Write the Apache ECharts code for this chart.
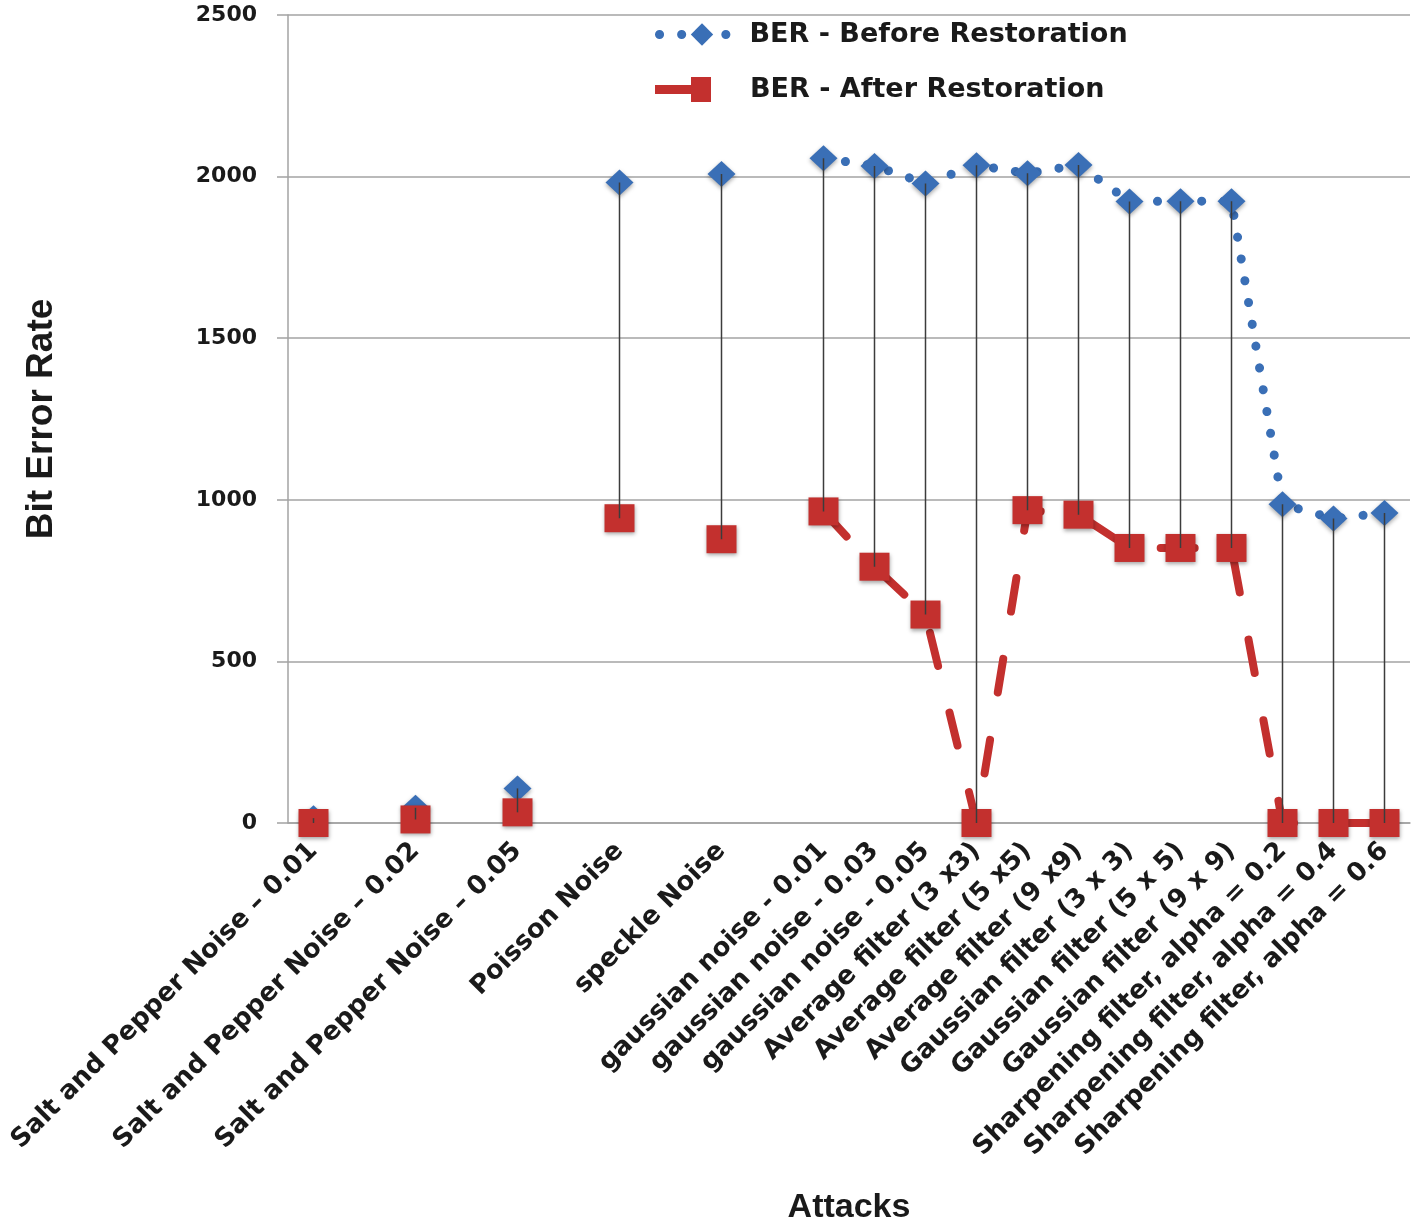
<!DOCTYPE html>
<html>
<head>
<meta charset="utf-8">
<script src="https://cdn.jsdelivr.net/npm/echarts@6/dist/echarts.min.js"></script>
<style>
html,body{margin:0;padding:0;background:#fff;}
#chart{width:1416px;height:1230px;}
</style>
</head>
<body>
<div id="chart"></div>
<script>
// Categories (empty strings are spacer slots that keep the original uneven spacing)
var categories = [
  'Salt and Pepper Noise \u2013 0.01', '',
  'Salt and Pepper Noise \u2013 0.02', '',
  'Salt and Pepper Noise \u2013 0.05', '',
  'Poisson Noise', '',
  'speckle Noise', '',
  'gaussian noise - 0.01',
  'gaussian noise - 0.03',
  'gaussian noise - 0.05',
  'Average filter (3 x3)',
  'Average filter (5 x5)',
  'Average filter (9 x9)',
  'Gaussian filter (3 x 3)',
  'Gaussian filter (5 x 5)',
  'Gaussian filter (9 x 9)',
  'Sharpening filter, alpha = 0.2',
  'Sharpening filter, alpha = 0.4',
  'Sharpening filter, alpha = 0.6'
];
var berBefore = [15, null, 47, null, 107, null, 1982, null, 2008, null, 2057, 2033, 1979, 2035, 2010, 2036, 1923, 1924, 1924, 986, 942, 959];
var berAfter  = [0, null, 11, null, 33, null, 943, null, 878, null, 964, 793, 645, 0, 968, 954, 851, 851, 851, 0, 0, 0];
var yTicks = [0, 500, 1000, 1500, 2000, 2500];

var seriesNames = ['BER - Before Restoration', 'BER - After Restoration'];

// high-low connector data built from the two series
var hiLo = [];
for (var i = 0; i < categories.length; i++) {
  if (berBefore[i] != null && berAfter[i] != null) hiLo.push([i, berAfter[i], berBefore[i]]);
}

var gridColor = '#a3a3a3';
var textColor = '#1a1a1a';
var blue = '#3a6fb6';
var red = '#c3302e';

// legend icon for the "after" series: thick line ending in a square (56 x 25)
var redLegendIcon = 'path://M0,8 L38,8 L38,17 L0,17 Z M36,0 L56,0 L56,25 L36,25 Z';
var legendText = { fontFamily: 'DejaVu Sans', fontWeight: 'bold', fontSize: 27, color: textColor };

var chart = echarts.init(document.getElementById('chart'));
chart.setOption({
  animation: false,
  backgroundColor: '#ffffff',
  legend: [
    {
      orient: 'vertical',
      left: 650,
      top: 16,
      itemWidth: 85,
      itemHeight: 28,
      lineStyle: { width: 'inherit' },
      data: [{ name: seriesNames[0] }],
      textStyle: legendText
    },
    {
      orient: 'vertical',
      left: 650,
      top: 71,
      itemWidth: 56,
      itemHeight: 28,
      data: [{ name: seriesNames[1], icon: redLegendIcon }],
      textStyle: Object.assign({ padding: [0, 0, 0, 34] }, legendText)
    }
  ],
  grid: { left: 288, right: 6, top: 15, bottom: 406, containLabel: false },
  xAxis: {
    type: 'category',
    data: categories,
    boundaryGap: true,
    name: 'Attacks',
    nameLocation: 'middle',
    nameGap: 368,
    nameTextStyle: { fontFamily: 'Liberation Sans', fontWeight: 'bold', fontSize: 34, color: textColor },
    axisLine: { lineStyle: { color: gridColor, width: 1.5 } },
    axisTick: { show: false },
    axisLabel: {
      interval: 0, rotate: 45, margin: 24,
      fontFamily: 'DejaVu Sans', fontWeight: 'bold', fontSize: 26, color: textColor
    },
    splitLine: { show: false }
  },
  yAxis: {
    type: 'value',
    min: yTicks[0], max: yTicks[yTicks.length - 1], interval: 500,
    name: 'Bit Error Rate',
    nameLocation: 'middle',
    nameRotate: 90,
    nameGap: 228,
    nameTextStyle: { fontFamily: 'Liberation Sans', fontWeight: 'bold', fontSize: 37, color: textColor },
    axisLine: { show: true, lineStyle: { color: gridColor, width: 1.5 } },
    axisTick: { show: true, length: 11, lineStyle: { color: gridColor, width: 1.5 } },
    axisLabel: {
      margin: 31, fontFamily: 'DejaVu Sans', fontWeight: 'bold', fontSize: 22, color: textColor,
      formatter: function (v) { return String(v); }
    },
    splitLine: { lineStyle: { color: gridColor, width: 1.5 } }
  },
  series: [
    {
      name: seriesNames[0],
      type: 'line',
      data: berBefore,
      connectNulls: false,
      symbol: 'diamond',
      symbolSize: [28, 26],
      z: 2,
      itemStyle: { color: blue, shadowBlur: 4, shadowColor: 'rgba(0,0,0,0.35)', shadowOffsetY: 2 },
      lineStyle: { color: blue, width: 9, type: [0.1, 22], cap: 'round' }
    },
    {
      name: seriesNames[1],
      type: 'line',
      data: berAfter,
      connectNulls: false,
      symbol: 'rect',
      symbolSize: [30, 28],
      z: 3,
      itemStyle: { color: red, shadowBlur: 4, shadowColor: 'rgba(0,0,0,0.35)', shadowOffsetY: 2 },
      lineStyle: { color: red, width: 8, type: [34, 48], cap: 'round' }
    },
    {
      type: 'custom',
      z: 5,
      silent: true,
      data: hiLo,
      encode: { x: 0, y: [1, 2] },
      renderItem: function (params, api) {
        var p1 = api.coord([api.value(0), api.value(1)]);
        var p2 = api.coord([api.value(0), api.value(2)]);
        return {
          type: 'line',
          shape: { x1: p1[0], y1: p1[1], x2: p2[0], y2: p2[1] },
          style: { stroke: '#3c3c3c', lineWidth: 1.5 }
        };
      }
    }
  ]
});
</script>
</body>
</html>
